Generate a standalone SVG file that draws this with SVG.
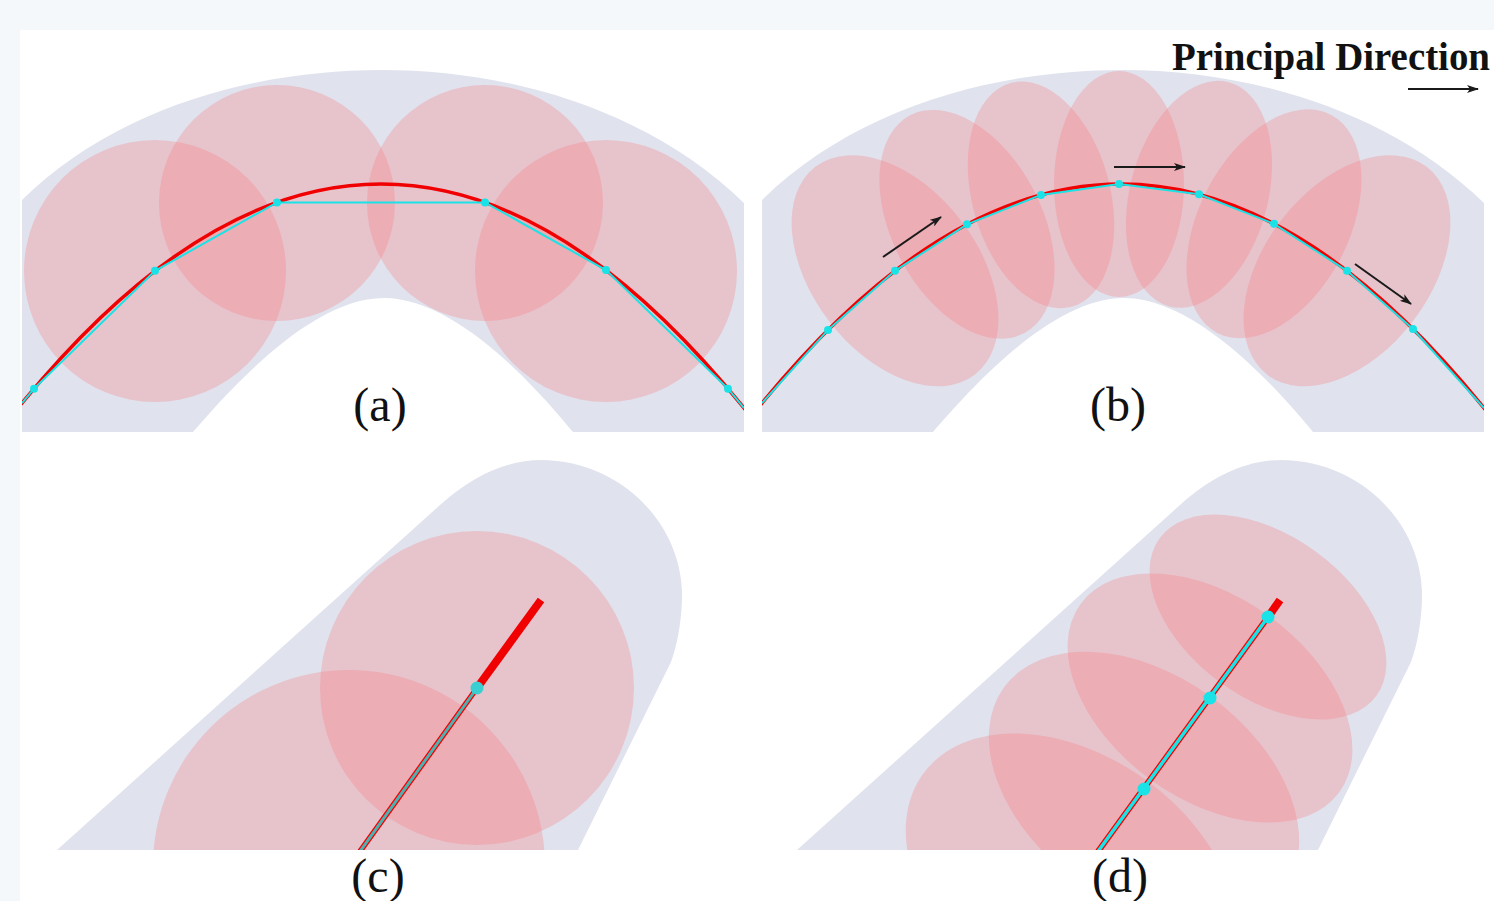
<svg xmlns="http://www.w3.org/2000/svg" width="1494" height="901" viewBox="0 0 1494 901">
<defs>
<style>
.bg{fill:#f4f8fb}
.panel{fill:#ffffff}
.tube{fill:#e0e3ed}
.blob{fill:#f87a80;fill-opacity:0.3}
.red{fill:none;stroke:#f00000;stroke-width:3.5}
.cyan{fill:none;stroke:#19e3e6;stroke-width:2}
.dot{fill:#19e3e6}
.arrow{stroke:#1a1a1a;stroke-width:2;fill:none;marker-end:url(#ah)}
.lbl{font-family:"Liberation Serif","Times New Roman",serif;font-size:48px;fill:#111;text-anchor:middle}
.title{font-family:"Liberation Serif","Times New Roman",serif;font-size:39px;font-weight:bold;fill:#111}
</style>
<marker id="ah" viewBox="0 0 12 8" refX="11" refY="4" markerWidth="12" markerHeight="8" markerUnits="userSpaceOnUse" orient="auto"><path d="M0,0 L12,4 L0,8 L3,4 Z" fill="#1a1a1a"/></marker>
<clipPath id="clipA"><rect x="22" y="30" width="722" height="402"/></clipPath>
<clipPath id="clipB"><rect x="762" y="30" width="722" height="402"/></clipPath>
<clipPath id="clipC"><rect x="20" y="440" width="740" height="410"/></clipPath>
<clipPath id="clipD"><rect x="760" y="440" width="734" height="410"/></clipPath>
<path id="tubeAB" d="M22,200 C118,106 258,70 382,70 C506,70 646,108 744,203 L744,432 L573,432 C540,392 458,298 384,298 C310,298 228,392 193,432 L22,432 Z"/>
<path id="tubeCD" d="M57,850 L440,505 C470,478 505,460 541,460 C618,460 684,522 682,600 C681,625 677,645 671,662 L578,850 Z"/>
</defs>
<rect class="bg" x="0" y="0" width="1494" height="901"/>
<rect class="panel" x="20" y="30" width="1474" height="871"/>

<g id="panel-a">
<g clip-path="url(#clipA)">
<use href="#tubeAB" class="tube"/>
<circle class="blob" cx="155" cy="271" r="131"/>
<circle class="blob" cx="277" cy="203" r="118"/>
<circle class="blob" cx="485" cy="203" r="118"/>
<circle class="blob" cx="606" cy="271" r="131"/>
<path class="red" d="M11,416.7 Q381,-48.7 751,416.7"/>
<polyline class="cyan" points="22,403.1 34,388.7 155,270.8 277,202.4 485,202.4 606,270.1 728,388.7 744,408"/>
<g class="dot">
<circle cx="34" cy="388.7" r="4"/><circle cx="155" cy="270.8" r="4"/><circle cx="277" cy="202.4" r="4"/>
<circle cx="485" cy="202.4" r="4"/><circle cx="606" cy="270.1" r="4"/><circle cx="728" cy="388.7" r="4"/>
</g>
</g>
<text class="lbl" x="380" y="421">(a)</text>
</g>

<g id="panel-b">
<g clip-path="url(#clipB)">
<use href="#tubeAB" class="tube" transform="translate(740,0)"/>
<ellipse class="blob" cx="895" cy="270.8" rx="83" ry="131" transform="rotate(-37.5 895 270.8)"/>
<ellipse class="blob" cx="967" cy="224.3" rx="75" ry="123" transform="rotate(-27.6 967 224.3)"/>
<ellipse class="blob" cx="1041" cy="194.9" rx="69" ry="116" transform="rotate(-15.2 1041 194.9)"/>
<ellipse class="blob" cx="1119" cy="184" rx="65" ry="113"/>
<ellipse class="blob" cx="1199" cy="194.3" rx="69" ry="116" transform="rotate(14.9 1199 194.3)"/>
<ellipse class="blob" cx="1274" cy="223.8" rx="75" ry="123" transform="rotate(27.5 1274 223.8)"/>
<ellipse class="blob" cx="1347" cy="270.8" rx="83" ry="131" transform="rotate(37.5 1347 270.8)"/>
<path class="red" d="M751,416.7 Q1121,-48.7 1491,416.7"/>
<polyline class="cyan" points="762,403.1 828,329.9 895,270.8 967,224.3 1041,194.9 1119,184 1199,194.3 1274,223.8 1347,270.8 1413,329 1484,408"/>
<g class="dot">
<circle cx="828" cy="329.9" r="4"/><circle cx="895" cy="270.8" r="4"/><circle cx="967" cy="224.3" r="4"/>
<circle cx="1041" cy="194.9" r="4"/><circle cx="1119" cy="184" r="4"/><circle cx="1199" cy="194.3" r="4"/>
<circle cx="1274" cy="223.8" r="4"/><circle cx="1347" cy="270.8" r="4"/><circle cx="1413" cy="329" r="4"/>
</g>
</g>
<text class="lbl" x="1118" y="421">(b)</text>
</g>

<g id="panel-c">
<g clip-path="url(#clipC)">
<use href="#tubeCD" class="tube"/>
<circle class="blob" cx="477" cy="688" r="157"/>
<circle class="blob" cx="349" cy="866" r="196"/>
<line x1="541" y1="600" x2="477" y2="688" stroke="#f00000" stroke-width="8"/>
<line x1="477" y1="688" x2="356" y2="857" stroke="#f00000" stroke-width="5.5"/>
<line x1="477" y1="688" x2="356" y2="857" stroke="#4fb0b0" stroke-width="3"/>
<circle cx="477" cy="688" r="6.5" fill="#3ccfd2"/>
</g>
<text class="lbl" x="378" y="892">(c)</text>
</g>

<g id="panel-d">
<g clip-path="url(#clipD)">
<use href="#tubeCD" class="tube" transform="translate(740,0)"/>
<ellipse class="blob" cx="1268" cy="617" rx="134" ry="81" transform="rotate(36 1268 617)"/>
<ellipse class="blob" cx="1210" cy="698" rx="160" ry="101" transform="rotate(36 1210 698)"/>
<ellipse class="blob" cx="1144" cy="789" rx="173" ry="114" transform="rotate(36 1144 789)"/>
<ellipse class="blob" cx="1072" cy="882" rx="184" ry="126" transform="rotate(36 1072 882)"/>
<line x1="1280" y1="600" x2="1268" y2="617" stroke="#f00000" stroke-width="8"/>
<line x1="1268" y1="617" x2="1094" y2="857" stroke="#f00000" stroke-width="6"/>
<line x1="1268" y1="617" x2="1094" y2="857" stroke="#19e3e6" stroke-width="3.5"/>
<g class="dot">
<circle cx="1268" cy="617" r="6.5"/><circle cx="1210" cy="698" r="6.5"/><circle cx="1144" cy="789" r="6.5"/>
</g>
</g>
<text class="lbl" x="1120" y="892">(d)</text>
</g>

<g id="legend">
<text class="title" x="1172" y="70" textLength="318" lengthAdjust="spacingAndGlyphs">Principal Direction</text>
</g>

<g id="connectors">
<line class="arrow" x1="1408" y1="89" x2="1478" y2="89"/>
<line class="arrow" x1="883" y1="257" x2="941" y2="217"/>
<line class="arrow" x1="1114" y1="167" x2="1185" y2="167"/>
<line class="arrow" x1="1355" y1="264" x2="1411" y2="304"/>
</g>
</svg>
